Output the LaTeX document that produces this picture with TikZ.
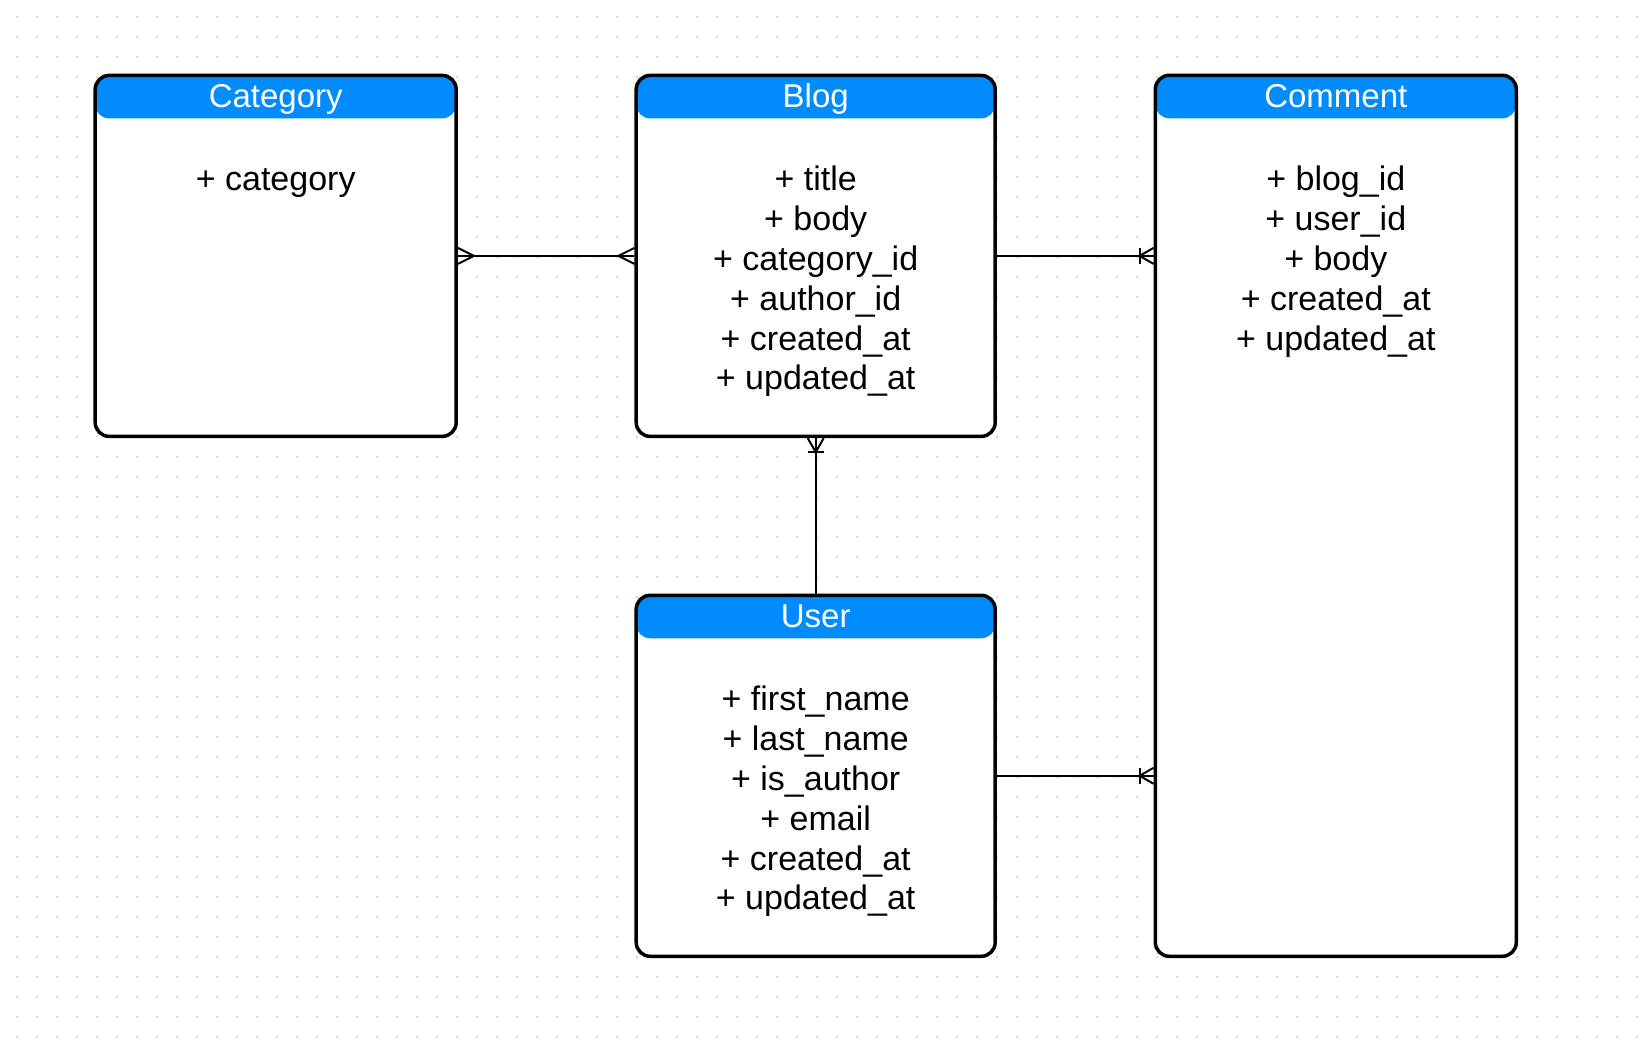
\documentclass[tikz,border=0pt]{standalone}
\usepackage{fontspec}
\setmainfont{Liberation Sans}
\usetikzlibrary{positioning}
\definecolor{hdrblue}{RGB}{0,140,255}
\definecolor{griddot}{RGB}{205,205,205}
\tikzset{
  entity/.style={draw, line width=3.5pt, rounded corners=14pt, fill=white, inner sep=0pt,
    path picture={\fill[hdrblue] (path picture bounding box.north west) rectangle ([yshift=-43pt]path picture bounding box.north east);}},
  title/.style={text=white, inner sep=0pt, text height=24pt, text depth=7pt, font=\fontsize{33}{40}\selectfont},
  field/.style={inner sep=0pt, text height=24pt, text depth=7pt, font=\fontsize{34}{40}\selectfont},
  conn/.style={line width=2pt},
  crowmany/.pic={\draw[conn] (0,-8) -- (16,0) -- (0,8);},
  crowone/.pic={\draw[conn] (0,-8) -- (14,0) -- (0,8); \draw[conn] (14,-8) -- (14,8);}
}
\begin{document}
\begin{tikzpicture}[x=1pt,y=-1pt]
\useasboundingbox[fill=white] (0,0) rectangle (1644,1046);
% background dots
\foreach \gx in {17,37,...,1637}
  \foreach \gy in {17,37,...,1037}
    \fill[griddot] (\gx,\gy) circle (1.1pt);

% tables
\node[entity, minimum width=361pt, minimum height=361pt] (cat) at (275.7,255.9) {};
\node[entity, minimum width=359pt, minimum height=361pt] (blog) at (815.7,255.9) {};
\node[entity, minimum width=361pt, minimum height=881pt] (comment) at (1335.8,515.8) {};
\node[entity, minimum width=359pt, minimum height=361pt] (user) at (815.7,775.8) {};

\node[title] (cat-t) at ([yshift=-25.5pt]cat.north) {Category};
\node[title] (blog-t) at ([yshift=-25.5pt]blog.north) {Blog};
\node[title] (comment-t) at ([yshift=-25.5pt]comment.north) {Comment};
\node[title] (user-t) at ([yshift=-25.5pt]user.north) {User};

% fields
\node[field] (cat-1) at ([yshift=-108.8pt]cat.north) {+ category};
\foreach \f [count=\i] in {title,body,category\_id,author\_id,created\_at,updated\_at}
  \node[field] (blog-\i) at ([yshift={-108.8pt-(\i-1)*39.8pt}]blog.north) {+ \f};
\foreach \f [count=\i] in {blog\_id,user\_id,body,created\_at,updated\_at}
  \node[field] (comment-\i) at ([yshift={-108.8pt-(\i-1)*39.8pt}]comment.north) {+ \f};
\foreach \f [count=\i] in {first\_name,last\_name,is\_author,email,created\_at,updated\_at}
  \node[field] (user-\i) at ([yshift={-108.8pt-(\i-1)*39.8pt}]user.north) {+ \f};

% relations
\draw[conn] (cat.east) -- (blog.west);
\pic at (cat.east) {crowmany};
\pic[rotate=180] at (blog.west) {crowmany};

\draw[conn] (blog.east) -- (blog.east -| comment.west);
\pic[rotate=180] at (blog.east -| comment.west) {crowone};

\draw[conn] (user.north) -- (blog.south);
\pic[rotate=-90] at (blog.south) {crowone};

\draw[conn] (user.east) -- (user.east -| comment.west);
\pic[rotate=180] at (user.east -| comment.west) {crowone};
\end{tikzpicture}
\end{document}
